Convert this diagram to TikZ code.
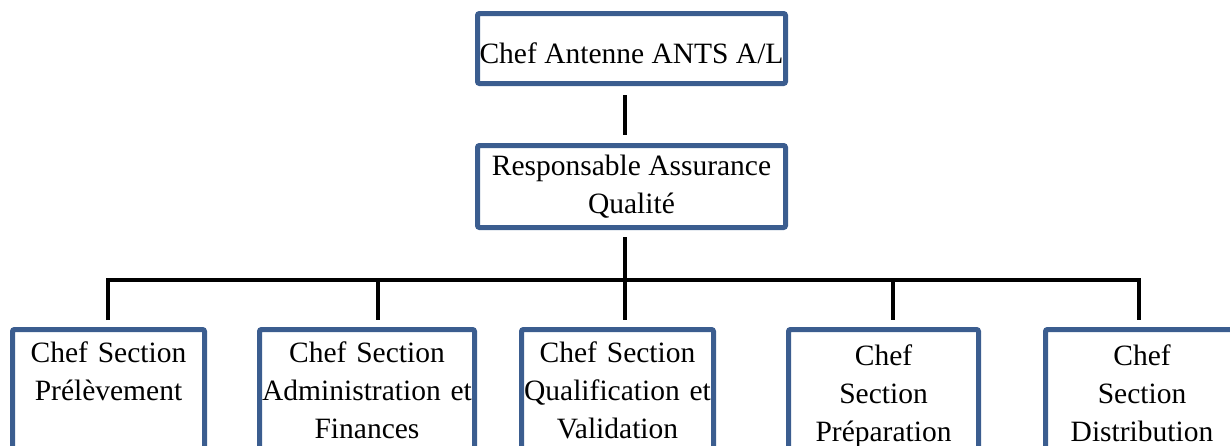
\documentclass[tikz,border=0pt]{standalone}
\usepackage{fontspec}
\setmainfont{Liberation Serif}
\usepackage{xcolor}
\usetikzlibrary{positioning}
\definecolor{frameblue}{HTML}{3B5D8F}

\begin{document}
\begin{tikzpicture}[x=1pt,y=-1pt,
 box/.style={draw=frameblue,line width=5pt,rounded corners=2pt,align=center,font=\fontsize{29.5}{38}\selectfont,inner sep=0pt},
 sect/.style={box,anchor=north,text width=#1,minimum width=#1,inner ysep=11pt,text height=22pt,text depth=150pt},
 link/.style={line width=4.5pt}
]
\useasboundingbox (0,0) rectangle (1230,445);
\clip (0,0) rectangle (1230,445);
\node[box,minimum width=308pt,minimum height=70pt,text height=29pt,text depth=0pt] (chef) at (631.5,48.5) {Chef Antenne ANTS A/L};
\node[box,minimum width=308pt,minimum height=82pt,below=57pt of chef] (qual) {Responsable Assurance\\Qualité};
\node[sect=192pt] (prel) at (108.5,327) {Chef Section\\Prélèvement};
\node[sect=215pt] (admin) at (367,327) {Chef Section\\Administration et\\Finances};
\node[sect=192pt] (qval) at (617.5,327) {Chef Section\\Qualification et\\Validation};
\node[sect=190pt,inner ysep=14pt] (prep) at (883.5,327) {Chef\\Section\\Préparation};
\node[sect=193pt,inner ysep=14pt] (distr) at (1142,327) {Chef\\Section\\Distribution};
% points where the drops leave the bar
\coordinate (d1) at (108,280);
\coordinate (d2) at (378,280);
\coordinate (d3) at (625,280);
\coordinate (d4) at (893,280);
\coordinate (d5) at (1139,280);
\draw[link] ([yshift=-9pt]chef.south -| d3) -- ([yshift=8pt]qual.north -| d3);
\draw[link] ([yshift=-7pt]qual.south -| d3) -- ([yshift=7pt]qval.north -| d3);
\draw[link] ([yshift=7pt]prel.north -| d1) -- (d1) -- (d5) -- ([yshift=7pt]distr.north -| d5);
\draw[link] (d2) -- ([yshift=7pt]admin.north -| d2);
\draw[link] (d4) -- ([yshift=7pt]prep.north -| d4);
\end{tikzpicture}
\end{document}
